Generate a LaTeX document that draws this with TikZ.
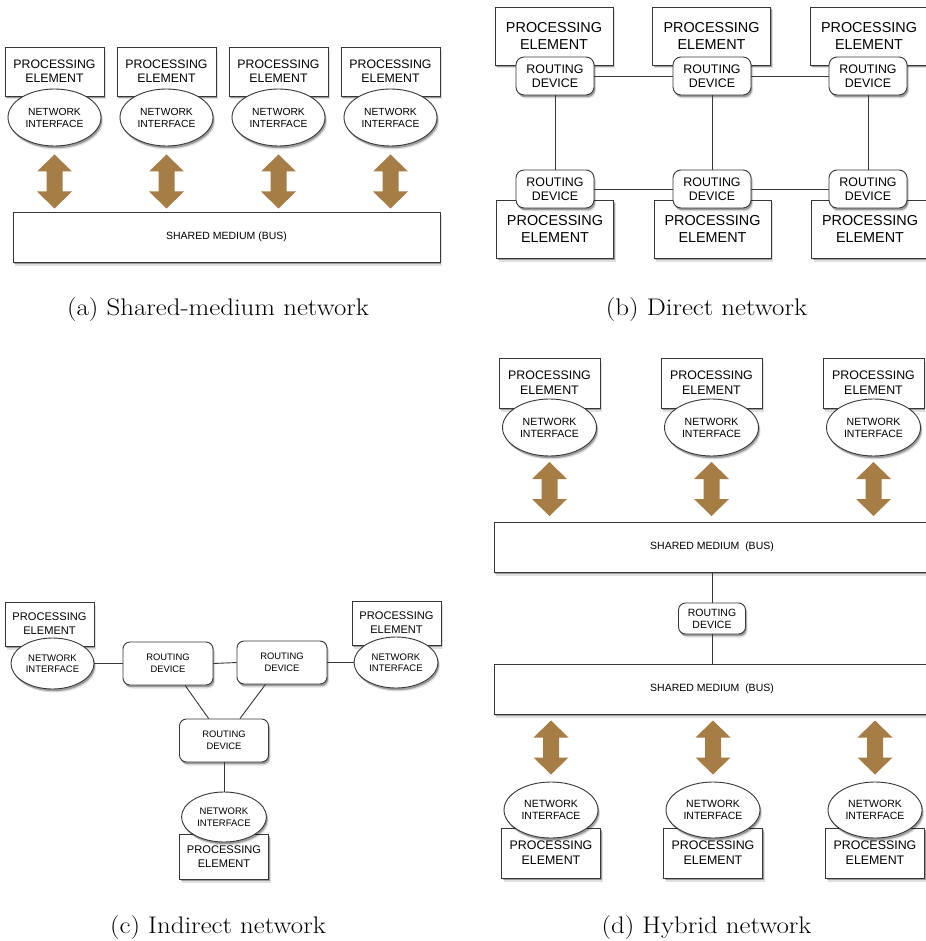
\documentclass[tikz,border=0pt]{standalone}
\usepackage{fontspec}
\setsansfont{Liberation Sans}
\usetikzlibrary{shadows,calc,shapes.geometric}

\definecolor{arrowbrown}{RGB}{166,125,69}
\definecolor{edgegray}{RGB}{55,55,55}

\newcommand{\fs}[2]{\fontsize{#1}{#2}\selectfont}
\newcommand{\captext}[1]{\scalebox{1.12}[1]{#1}}

\tikzset{
  base/.style={draw=edgegray, line width=0.9pt, fill=white, inner sep=0pt,
    align=center, font=\sffamily,
    drop shadow={shadow xshift=2pt, shadow yshift=-3.5pt, opacity=0.12, fill=black},
    drop shadow={shadow xshift=1.2pt, shadow yshift=-2.2pt, opacity=0.3, fill=black}},
  pebox/.style={base, rectangle},
  nifc/.style={base, ellipse},
  rdev/.style={base, rectangle, rounded corners=7pt},
  busbox/.style={base, rectangle},
  link/.style={draw=edgegray, line width=0.9pt},
  caption/.style={font=\fs{24}{28}},
  bidir/.pic={\fill[arrowbrown] (0,-27) -- (17.5,-10) -- (8,-10) -- (8,10) -- (17.5,10)
      -- (0,27) -- (-17.5,10) -- (-8,10) -- (-8,-10) -- (-17.5,-10) -- cycle;}
}

\begin{document}
\begin{tikzpicture}[x=1pt,y=-1pt]
\useasboundingbox (0,0) rectangle (925,941);

% ---------------- (a) shared-medium network ----------------
\foreach \i/\x in {1/54.5,2/166.5,3/278.5,4/390.5}{
  \node[pebox, minimum width=99pt, minimum height=49pt, font=\sffamily\fs{12.3}{14}]
    (peA\i) at (\x,71.5) {PROCESSING\\ELEMENT};
  \node[nifc, minimum width=93pt, minimum height=57pt, font=\sffamily\fs{10.3}{12}]
    (niA\i) at (\x,117.5) {NETWORK\\INTERFACE};
  \pic at (\x,181.5) {bidir};
}
\node[busbox, minimum width=427pt, minimum height=50pt, font=\sffamily\fs{10.5}{12}]
  (busA) at (226.5,237) {SHARED MEDIUM (BUS)};
\node[caption] (capA) at (218,310) {\captext{(a) Shared-medium network}};

% ---------------- (b) direct network ----------------
\foreach \i/\x in {1/554,2/711.5,3/869}{
  \node[pebox, minimum width=118pt, minimum height=58pt, font=\sffamily\fs{14.4}{17}]
    (peBt\i) at (\x,36) {PROCESSING\\ELEMENT};
  \node[pebox, minimum width=117pt, minimum height=58pt, font=\sffamily\fs{14.4}{17}]
    (peBb\i) at (\x+1,229) {PROCESSING\\ELEMENT};
}
\foreach \i/\x in {1/555,2/712,3/868}{
  \node[rdev, rounded corners=8pt, minimum width=78pt, minimum height=38pt, font=\sffamily\fs{12.4}{14.5}]
    (rdBt\i) at (\x,76) {ROUTING\\DEVICE};
  \node[rdev, rounded corners=8pt, minimum width=78pt, minimum height=38pt, font=\sffamily\fs{12.4}{14.5}]
    (rdBb\i) at (\x,189) {ROUTING\\DEVICE};
}
\foreach \i in {1,2,3}{ \draw[link] (rdBt\i.south) -- (rdBb\i.north); }
\draw[link] (rdBt1.east) -- (rdBt2.west) (rdBt2.east) -- (rdBt3.west);
\draw[link] (rdBb1.east) -- (rdBb2.west) (rdBb2.east) -- (rdBb3.west);
\node[caption] (capB) at (706.5,310) {\captext{(b) Direct network}};

% ---------------- (c) indirect network ----------------
\node[pebox, minimum width=89pt, minimum height=44pt, font=\sffamily\fs{11.1}{14}]
  (peC1) at (49.5,624) {PROCESSING\\ELEMENT};
\node[nifc, minimum width=83pt, minimum height=51pt, font=\sffamily\fs{9.5}{11.5}]
  (niC1) at (52.5,663.5) {NETWORK\\INTERFACE};
\node[pebox, minimum width=89pt, minimum height=44pt, font=\sffamily\fs{11.1}{14}]
  (peC2) at (396.5,623) {PROCESSING\\ELEMENT};
\node[nifc, minimum width=84pt, minimum height=51pt, font=\sffamily\fs{9.5}{11.5}]
  (niC2) at (396,662.5) {NETWORK\\INTERFACE};
\node[rdev, minimum width=90pt, minimum height=43pt, font=\sffamily\fs{9.4}{11.5}]
  (rdC1) at (168,663.5) {ROUTING\\DEVICE};
\node[rdev, minimum width=90pt, minimum height=43pt, font=\sffamily\fs{9.4}{11.5}]
  (rdC2) at (282,662.5) {ROUTING\\DEVICE};
\node[rdev, minimum width=89pt, minimum height=43pt, font=\sffamily\fs{9.4}{11.5}]
  (rdC3) at (224,740.5) {ROUTING\\DEVICE};
\node[pebox, minimum width=89pt, minimum height=45pt, font=\sffamily\fs{11.1}{14}]
  (peC3) at (224,856.5) {PROCESSING\\ELEMENT};
\node[nifc, minimum width=85pt, minimum height=50pt, font=\sffamily\fs{9.5}{11.5}]
  (niC3) at (224,817) {NETWORK\\INTERFACE};
\draw[link] (niC1.east) -- (rdC1.west);
\draw[link] (rdC1.east) -- (rdC2.west);
\draw[link] (rdC2.east) -- (niC2.west);
\draw[link] (rdC1.-52) -- (rdC3.125);
\draw[link] (rdC2.-127) -- (rdC3.54);
\draw[link] (rdC3.south) -- (niC3.north);
\node[caption] (capC) at (218,927) {\captext{(c) Indirect network}};

% ---------------- (d) hybrid network ----------------
\foreach \i/\x in {1/549.5,2/711.5,3/873.5}{
  \node[pebox, minimum width=101pt, minimum height=50pt, font=\sffamily\fs{12.4}{15}]
    (peDt\i) at (\x,383) {PROCESSING\\ELEMENT};
  \node[nifc, minimum width=94pt, minimum height=57pt, font=\sffamily\fs{10.5}{12}]
    (niDt\i) at (\x,427.5) {NETWORK\\INTERFACE};
  \pic at (\x,489) {bidir};
}
\node[busbox, minimum width=436pt, minimum height=50pt, font=\sffamily\fs{10.5}{12}]
  (busDt) at (712,547) {SHARED MEDIUM\ \ (BUS)};
\node[rdev, minimum width=67pt, minimum height=31pt, font=\sffamily\fs{10.5}{12}]
  (rdD) at (712,618.5) {ROUTING\\DEVICE};
\node[busbox, minimum width=436pt, minimum height=50pt, font=\sffamily\fs{10.5}{12}]
  (busDb) at (712,689) {SHARED MEDIUM\ \ (BUS)};
\draw[link] (busDt.south) -- (rdD.north);
\draw[link] (rdD.south) -- (busDb.north);
\foreach \i/\x in {1/551,2/713,3/875}{
  \pic at (\x,747.5) {bidir};
  \node[pebox, minimum width=99pt, minimum height=50pt, font=\sffamily\fs{12.4}{15}]
    (peDb\i) at (\x,853) {PROCESSING\\ELEMENT};
  \node[nifc, minimum width=94pt, minimum height=56pt, font=\sffamily\fs{10.5}{12}]
    (niDb\i) at (\x,810) {NETWORK\\INTERFACE};
}
\node[caption] (capD) at (706.5,927) {\captext{(d) Hybrid network}};
\end{tikzpicture}
\end{document}
